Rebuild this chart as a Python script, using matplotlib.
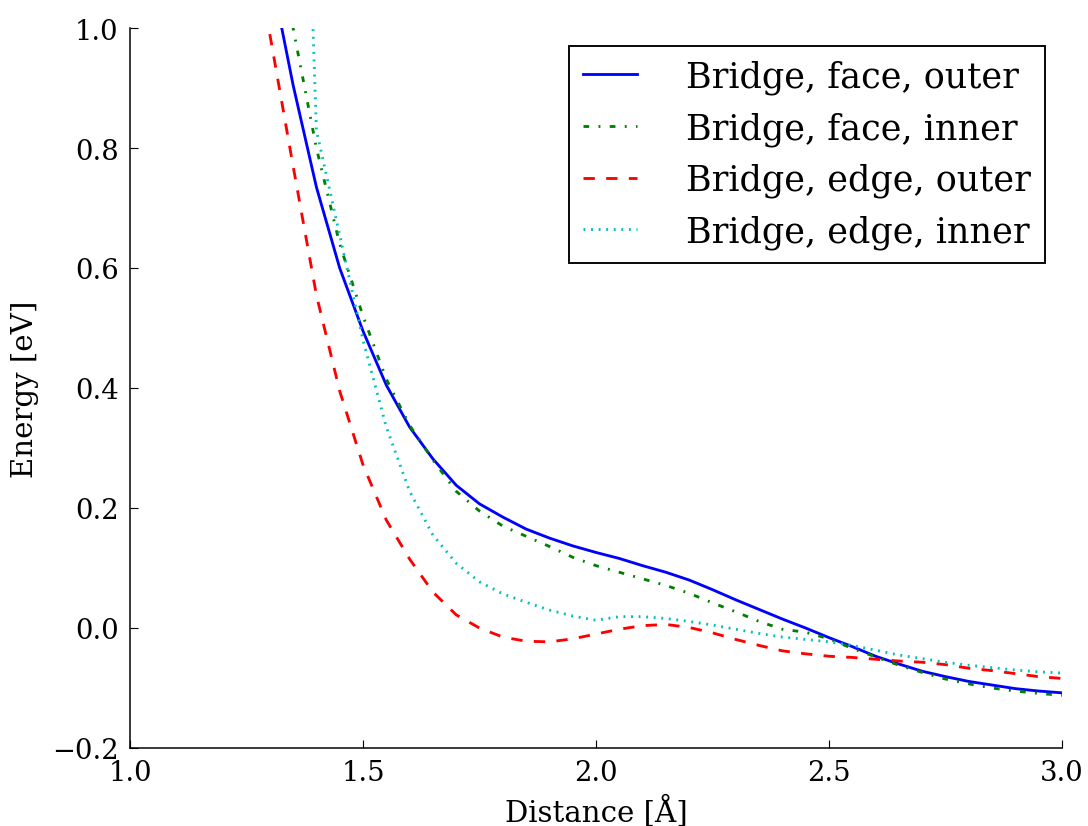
import numpy as np
import matplotlib
matplotlib.use('Agg')
from matplotlib import pyplot as plt

#距離 [Å]
distance = [1.30, 1.35, 1.40, 1.45, 1.50, 1.55, 1.60, 1.65, 1.70, 1.75,
            1.80, 1.85, 1.90, 1.95, 2.00, 2.05, 2.10, 2.15, 2.20, 2.25,
            2.30, 2.35, 2.40, 2.45, 2.50, 2.55, 2.60, 2.65, 2.70, 2.75,
            2.80, 2.85, 2.90, 2.95, 3.00]

#エネルギー [eV]
face_outer = [1.10, 0.905, 0.735, 0.600, 0.495, 0.405, 0.335, 0.282, 0.238, 0.207,
              0.185, 0.165, 0.150, 0.137, 0.126, 0.116, 0.104, 0.093, 0.080, 0.064,
              0.047, 0.031, 0.015, 0.000, -0.016, -0.031, -0.047, -0.060, -0.072, -0.081,
              -0.089, -0.095, -0.101, -0.105, -0.108]
face_inner = [1.22, 1.000, 0.800, 0.640, 0.520, 0.415, 0.338, 0.280, 0.228, 0.195,
              0.170, 0.153, 0.136, 0.118, 0.104, 0.093, 0.082, 0.071, 0.058, 0.042,
              0.027, 0.011, -0.002, -0.007, -0.018, -0.034, -0.048, -0.062, -0.074, -0.085,
              -0.093, -0.100, -0.105, -0.109, -0.112]
edge_outer = [0.990, 0.770, 0.555, 0.395, 0.272, 0.180, 0.115, 0.060, 0.022, 0.000,
              -0.015, -0.022, -0.023, -0.018, -0.010, -0.002, 0.004, 0.006, 0.001, -0.008,
              -0.019, -0.029, -0.038, -0.043, -0.047, -0.049, -0.052, -0.055, -0.057, -0.061,
              -0.067, -0.071, -0.076, -0.081, -0.084]
edge_inner = [np.nan, 1.98, 0.830, 0.655, 0.480, 0.335, 0.228, 0.155, 0.108, 0.077,
              0.057, 0.043, 0.030, 0.020, 0.013, 0.019, 0.019, 0.016, 0.011, 0.005,
              -0.002, -0.009, -0.015, -0.019, -0.023, -0.029, -0.037, -0.045, -0.051, -0.057,
              -0.062, -0.066, -0.070, -0.073, -0.075]

labels = ['Bridge, face, outer', 'Bridge, face, inner', 'Bridge, edge, outer', 'Bridge, edge, inner']

plt.rcParams['font.family'] = 'DejaVu Serif'
plt.rcParams['font.size'] = 14.5
plt.rcParams['axes.unicode_minus'] = True

fig = plt.figure(figsize=(8, 6.08), dpi=136)
ax = fig.add_axes([0.1195, 0.0943, 0.8566, 0.8706])

ax.plot(distance, face_outer, color='b', linestyle='-', lw=1.5, label=labels[0])
ax.plot(distance, face_inner, color='g', lw=1.5, dashes=(2, 3.3, 0.67, 3.3), label=labels[1])
ax.plot(distance, edge_outer, color='r', lw=1.5, dashes=(4, 4), label=labels[2])
ax.plot(distance, edge_inner, color='c', lw=1.5, dashes=(0.67, 2), label=labels[3])

ax.set_xlim(1.0, 3.0)
ax.set_ylim(-0.2, 1.0)
ax.set_xticks([1.0, 1.5, 2.0, 2.5, 3.0])
ax.set_yticks([-0.2, 0.0, 0.2, 0.4, 0.6, 0.8, 1.0])

ax.spines['top'].set_visible(False)
ax.spines['right'].set_visible(False)
ax.tick_params(direction='in', length=4, width=0.6, pad=6, top=False, right=False)

ax.set_xlabel('Distance [Å]', fontsize=15.5, labelpad=4)
ax.set_ylabel('Energy [eV]', fontsize=15.5, labelpad=7)

leg = ax.legend(loc='upper right', fancybox=False, framealpha=1, edgecolor='black',
                fontsize=18.5, handlelength=1.53, handletextpad=1.4, borderpad=0.4,
                labelspacing=0.49, borderaxespad=0.5)
leg.get_frame().set_linewidth(1.0)

plt.savefig('out.png', dpi=136)
